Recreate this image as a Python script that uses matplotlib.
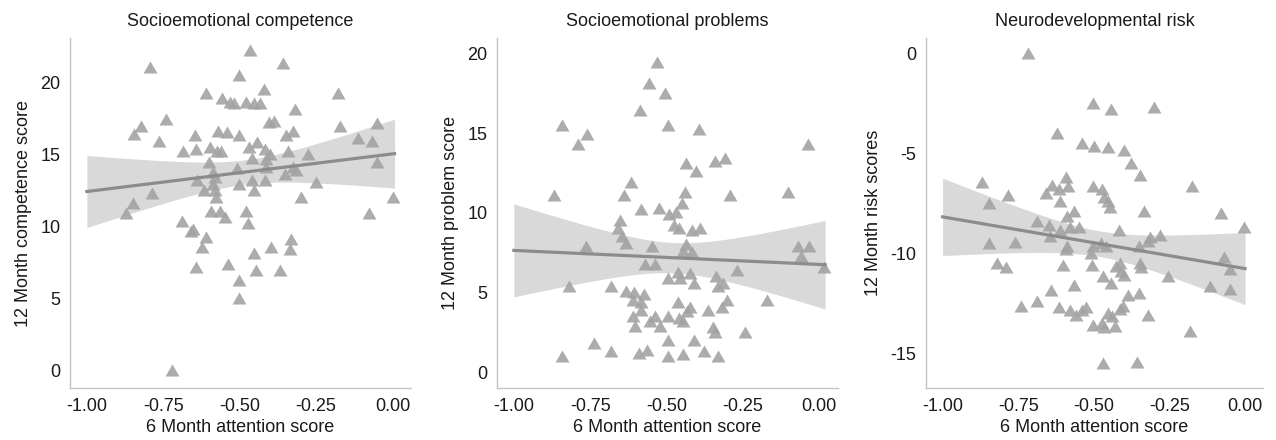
import numpy as np
import matplotlib
matplotlib.use("Agg")
import matplotlib.pyplot as plt

plt.rcParams['font.family'] = ['Liberation Sans', 'DejaVu Sans']
plt.rcParams['axes.unicode_minus'] = False

# dados (x = 6 month attention, y = 12 month score)
comp_x = [-0.467, -0.793, -0.358, -0.503, -0.611, -0.420, -0.178, -0.557, -0.533, -0.519,
          -0.478, -0.453, -0.434, -0.320, -0.740, -0.824, -0.846, -0.404, -0.388, -0.172,
          -0.049, -0.764, -0.646, -0.571, -0.540, -0.502, -0.347, -0.325, -0.112, -0.067,
          -0.686, -0.644, -0.596, -0.574, -0.560, -0.469, -0.443, -0.417, -0.401, -0.341,
          -0.276, -0.600, -0.460, -0.413, -0.049, -0.508, -0.415, -0.325, -0.314, -0.353,
          -0.587, -0.579, -0.639, -0.460, -0.417, -0.251, -0.501, -0.587, -0.617, -0.581,
          -0.452, -0.786, -0.300, -0.576, 0.002, -0.849, -0.873, -0.593, -0.565, -0.547,
          -0.478, -0.076, -0.688, -0.653, -0.660, -0.473, -0.609, -0.622, -0.331, -0.336,
          -0.396, -0.452, -0.644, -0.538, -0.445, -0.369, -0.503, -0.503, -0.722]
comp_y = [22.1, 20.9, 21.2, 20.4, 19.1, 19.4, 19.1, 18.8, 18.5, 18.4,
          18.5, 18.4, 18.4, 18.0, 17.3, 16.8, 16.3, 17.1, 17.2, 16.8,
          17.0, 15.8, 16.2, 16.5, 16.4, 16.2, 16.2, 16.5, 16.0, 15.8,
          15.1, 15.2, 15.4, 15.1, 15.1, 15.4, 15.7, 15.2, 14.9, 15.1,
          14.9, 14.3, 14.6, 14.5, 14.3, 13.9, 14.0, 14.0, 13.8, 13.5,
          13.6, 13.3, 13.1, 13.1, 13.1, 12.9, 12.8, 12.8, 12.4, 12.4,
          12.4, 12.2, 11.9, 11.9, 11.9, 11.5, 10.8, 10.9, 10.9, 10.5,
          10.9, 10.8, 10.2, 9.7, 9.5, 10.1, 9.1, 8.4, 9.0, 8.3,
          8.4, 8.0, 7.0, 7.2, 6.8, 6.8, 6.1, 4.9, -0.1]

prob_x = [-0.531, -0.556, -0.504, -0.587, -0.496, -0.841, -0.759, -0.789, -0.394, -0.037,
          -0.309, -0.342, -0.438, -0.403, -0.618, -0.868, -0.640, -0.441, -0.103, -0.291,
          -0.583, -0.526, -0.493, -0.468, -0.450, -0.651, -0.658, -0.477, -0.459, -0.417,
          -0.392, -0.646, -0.632, -0.765, -0.547, -0.438, -0.445, -0.417, -0.071, -0.035,
          -0.059, -0.572, -0.538, 0.014, -0.269, -0.463, -0.425, -0.497, -0.456, -0.409,
          -0.337, -0.819, -0.682, -0.331, -0.315, -0.632, -0.608, -0.575, -0.583, -0.610,
          -0.463, -0.302, -0.170, -0.583, -0.425, -0.434, -0.366, -0.318, -0.610, -0.538,
          -0.497, -0.554, -0.459, -0.447, -0.605, -0.520, -0.347, -0.342, -0.243, -0.739,
          -0.496, -0.409, -0.682, -0.591, -0.564, -0.378, -0.841, -0.496, -0.447, -0.333]
prob_y = [19.3, 18.0, 17.4, 16.3, 15.4, 15.4, 14.8, 14.2, 15.1, 14.2,
          13.3, 13.1, 13.0, 12.5, 11.8, 11.0, 11.0, 11.2, 11.2, 11.0,
          10.1, 10.2, 9.8, 9.9, 10.5, 9.4, 8.9, 9.1, 8.9, 8.8,
          8.9, 8.4, 8.0, 7.8, 7.8, 7.9, 7.5, 7.4, 7.8, 7.8,
          7.2, 6.7, 6.7, 6.5, 6.3, 6.2, 6.1, 5.8, 5.8, 5.5,
          5.9, 5.3, 5.3, 5.3, 5.5, 5.0, 4.9, 4.8, 4.3, 4.4,
          4.3, 4.4, 4.4, 3.8, 4.0, 3.7, 3.8, 4.0, 3.4, 3.4,
          3.4, 3.1, 3.3, 3.1, 2.8, 2.8, 2.7, 2.4, 2.4, 1.7,
          1.9, 1.9, 1.2, 1.1, 1.3, 1.2, 0.9, 0.9, 1.0, 0.9]

risk_x = [-0.719, -0.502, -0.444, -0.301, -0.621, -0.537, -0.500, -0.453, -0.399, -0.375,
          -0.345, -0.870, -0.590, -0.584, -0.637, -0.659, -0.615, -0.502, -0.471, -0.466,
          -0.454, -0.447, -0.785, -0.846, -0.612, -0.565, -0.588, -0.334, -0.173, -0.077,
          -0.004, -0.689, -0.647, -0.612, -0.579, -0.547, -0.416, -0.645, -0.279, -0.312,
          -0.321, -0.846, -0.760, -0.588, -0.590, -0.502, -0.475, -0.458, -0.351, -0.508,
          -0.821, -0.791, -0.601, -0.505, -0.427, -0.414, -0.409, -0.398, -0.347, -0.344,
          -0.253, -0.070, -0.049, -0.469, -0.444, -0.565, -0.640, -0.387, -0.351, -0.114,
          -0.049, -0.742, -0.687, -0.615, -0.579, -0.557, -0.537, -0.526, -0.453, -0.440,
          -0.412, -0.404, -0.321, -0.502, -0.471, -0.466, -0.431, -0.180, -0.469, -0.356]
risk_y = [-0.08, -2.6, -2.9, -2.8, -4.1, -4.6, -4.75, -4.8, -4.95, -5.6,
          -6.2, -6.55, -6.3, -6.75, -6.7, -7.1, -6.9, -6.75, -6.9, -7.3,
          -7.5, -7.8, -7.2, -7.6, -7.5, -8.0, -8.25, -8.0, -6.75, -8.1,
          -8.8, -8.5, -8.7, -8.95, -8.8, -8.8, -8.95, -9.25, -9.2, -9.3,
          -9.5, -9.6, -9.55, -9.75, -9.9, -9.75, -9.6, -9.75, -9.75, -10.1,
          -10.6, -10.8, -10.7, -10.7, -10.75, -10.6, -11.0, -11.2, -10.6, -10.8,
          -11.25, -10.3, -10.9, -11.25, -11.6, -11.7, -11.95, -12.2, -12.1, -11.75,
          -11.9, -12.75, -12.5, -12.8, -12.95, -13.2, -12.95, -12.8, -13.1, -13.25,
          -12.9, -12.75, -13.2, -13.7, -13.6, -13.8, -13.75, -14.0, -15.6, -15.55]

titulos = ["Socioemotional competence", "Socioemotional problems", "Neurodevelopmental risk"]
rotulos_y = ["12 Month competence score", "12 Month problem score", "12 Month risk scores"]
ticks_x = [-1.00, -0.75, -0.50, -0.25, 0.00]
ticks_y = [[0, 5, 10, 15, 20], [0, 5, 10, 15, 20], [-15, -10, -5, 0]]
limites_y = [(-1.25, 23.06), (-0.98, 20.94), (-16.75, 0.75)]

cor_ponto = "#a3a3a3"
cor_linha = "#8c8c8c"
cor_faixa = "#d9d9d9"
cor_eixo = "#c4c4c4"
cor_texto = "#1a1a1a"
tam_fonte = 13

# triangulo equilatero centrado no baricentro
triangulo = [(-1.0, -0.577), (1.0, -0.577), (0.0, 1.155), (-1.0, -0.577)]


# ajuste linear com intervalo de confianca de 95% (t ~ 1.99)
def ajusteLinear(x, y, x0):
    x = np.array(x)
    y = np.array(y)
    n = len(x)
    b, a = np.polyfit(x, y, 1)
    res = y - (a + b * x)
    s = np.sqrt(np.sum(res ** 2) / (n - 2))
    sxx = np.sum((x - x.mean()) ** 2)
    pred = a + b * x0
    se = s * np.sqrt(1.0 / n + (x0 - x.mean()) ** 2 / sxx)
    return pred, pred - 1.99 * se, pred + 1.99 * se


def desenhaPainel(ax, x, y, titulo, rotulo_y, yt, ylim):
    x0 = np.linspace(-1.0, max(x) + 0.005, 100)
    pred, baixo, alto = ajusteLinear(x, y, x0)
    ax.fill_between(x0, baixo, alto, color=cor_faixa, lw=0, zorder=1)
    ax.scatter(x, y, marker=triangulo, s=135, color=cor_ponto, alpha=0.9, lw=0, zorder=2)
    ax.plot(x0, pred, color=cor_linha, lw=2.3, zorder=3)
    ax.set_xlim(-1.055, 0.06)
    ax.set_ylim(*ylim)
    ax.set_xticks(ticks_x)
    ax.set_xticklabels(["%.2f" % t for t in ticks_x])
    ax.set_yticks(yt)
    ax.tick_params(length=0, labelsize=tam_fonte, colors=cor_texto, pad=7)
    for lado in ["top", "right"]:
        ax.spines[lado].set_visible(False)
    for lado in ["left", "bottom"]:
        ax.spines[lado].set_color(cor_eixo)
        ax.spines[lado].set_linewidth(1.0)
    ax.set_title(titulo, fontsize=tam_fonte, color=cor_texto, pad=9)
    ax.set_xlabel("6 Month attention score", fontsize=tam_fonte, color=cor_texto, labelpad=3)
    ax.set_ylabel(rotulo_y, fontsize=tam_fonte, color=cor_texto, labelpad=6)


fig = plt.figure(figsize=(12.76, 4.4), dpi=100)
posicoes = [[0.0549, 0.118, 0.267, 0.795],
            [0.3895, 0.118, 0.267, 0.795],
            [0.7257, 0.118, 0.264, 0.795]]
dados = [(comp_x, comp_y), (prob_x, prob_y), (risk_x, risk_y)]

for i in range(3):
    ax = fig.add_axes(posicoes[i])
    desenhaPainel(ax, dados[i][0], dados[i][1], titulos[i], rotulos_y[i], ticks_y[i], limites_y[i])

fig.savefig("out.png", dpi=100)
